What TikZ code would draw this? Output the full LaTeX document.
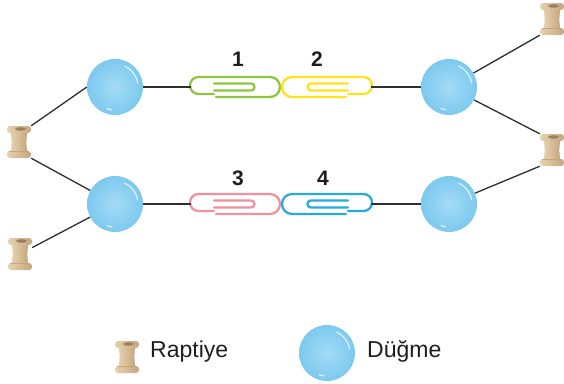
\documentclass[tikz,border=0pt]{standalone}
\usepackage{fontspec}
\setmainfont{Liberation Sans}
\definecolor{wirecol}{HTML}{2E2E2E}
\definecolor{clipgreen}{HTML}{8CC63F}
\definecolor{clipyellow}{HTML}{FBE41A}
\definecolor{clippink}{HTML}{F0919E}
\definecolor{clipblue}{HTML}{27AAE1}
\definecolor{btnin}{HTML}{A4DBF6}
\definecolor{btnout}{HTML}{7CC9EF}
\definecolor{pinlight}{HTML}{E6D1AE}
\definecolor{pindark}{HTML}{C4A67E}
\definecolor{pinhole}{HTML}{9C8260}
\definecolor{textcol}{HTML}{1E1E1E}
\begin{document}
\begin{tikzpicture}[x=1pt,y=-1pt,
  wire/.style={line width=1.3pt, draw=wirecol},
  clipwire/.style={line width=2.3pt, line cap=round, line join=round, draw=#1},
  anchorbox/.style={rectangle, inner sep=0pt, draw=none},
  ballnode/.style={circle, inner sep=0pt, minimum size=56pt, inner color=btnin, outer color=btnout},
  numlabel/.style={inner sep=0pt, text=textcol, font=\fontsize{21}{24}\selectfont\bfseries},
  legendtext/.style={anchor=base west, inner sep=0pt, text=textcol, font=\fontsize{23}{27}\selectfont},
  paperclip/.pic={
    \node[anchorbox, minimum width=88pt, minimum height=18pt] (-box) at (0,0) {};
    % outer loop: small bend on one end, wide bend on the other
    \draw[clipwire=#1, rounded corners=8.4pt] (-21,7) -- (-45,7) -- (-45,-10) -- (0,-10);
    \draw[clipwire=#1, rounded corners=9.9pt] (0,-10) -- (45,-10) -- (45,10) -- (-19,10);
    % inner loop
    \draw[clipwire=#1, rounded corners=3.4pt] (-21,-3.5) -- (19.5,-3.5) -- (19.5,3.5) -- (-21,3.5);
  },
  spool/.pic={
    \node[anchorbox, minimum width=24pt, minimum height=32pt] (-box) at (0,0) {};
    \shade[left color=pinlight, right color=pindark]
      (-8.5,-10) .. controls (-7,-3) and (-7,3) .. (-8.5,10) -- (8.5,10)
      .. controls (7,3) and (7,-3) .. (8.5,-10) -- cycle;
    \shade[left color=pinlight, right color=pindark, rounded corners=3pt] (-12,9) rectangle (12,16);
    \draw[pindark, line width=0.6pt] (-10,9.6) -- (10,9.6);
    \shade[left color=pinlight, right color=pindark, rounded corners=3pt] (-12,-16) rectangle (12,-9);
    \fill[pinhole] (1.5,-13) ellipse [x radius=5.5pt, y radius=1.8pt];
  },
  button/.pic={
    \node[ballnode] (-ball) at (0,0) {};
    \draw[white, opacity=0.75, line width=1.2pt, line cap=round]
      plot[domain=10:65, samples=20] ({23*cos(\x)}, {-23*sin(\x)});
    \draw[white, opacity=0.75, line width=1.2pt, line cap=round]
      plot[domain=250:262, samples=8] ({23*cos(\x)}, {-23*sin(\x)});
  }
]
\useasboundingbox (0,0) rectangle (564,383);

% buttons
\pic (b1) at (115,87) {button};
\pic (b2) at (449,87) {button};
\pic (b3) at (115,204) {button};
\pic (b4) at (449,204) {button};

% pins
\pic (pL) at (19,142) {spool};
\pic (pBL) at (20,254) {spool};
\pic (pTR) at (552,19) {spool};
\pic (pR) at (552,150) {spool};

% paper clips
\pic (c1) at (235,87) {paperclip=clipgreen};
\pic[xscale=-1] (c2) at (327,87) {paperclip=clipyellow};
\pic (c3) at (235,204) {paperclip=clippink};
\pic[xscale=-1] (c4) at (327,204) {paperclip=clipblue};

% numbers
\node[numlabel] (n1) at (238,59) {1};
\node[numlabel] (n2) at (317,59) {2};
\node[numlabel] (n3) at (238,178) {3};
\node[numlabel] (n4) at (323,178) {4};

% threads
\draw[wire] (b1-ball) -- (c1-box);
\draw[wire] (c2-box) -- (b2-ball);
\draw[wire] (b3-ball) -- (c3-box);
\draw[wire] (c4-box) -- (b4-ball);
\draw[wire] (b1-ball.west) -- (pL-box.north east);
\draw[wire] (b3-ball) -- (pL-box.south east);
\draw[wire] (b3-ball) -- (pBL-box);
\draw[wire] (b2-ball) -- (pTR-box.south west);
\draw[wire] (b2-ball) -- (pR-box.north west);
\draw[wire] (b4-ball) -- (pR-box.south west);

% legend
\pic (lp) at (127,357) {spool};
\node[legendtext] (t1) at (150,357) {Raptiye};
\pic (lb) at (327,353) {button};
\node[legendtext] (t2) at (367,357) {Düğme};
\end{tikzpicture}
\end{document}
